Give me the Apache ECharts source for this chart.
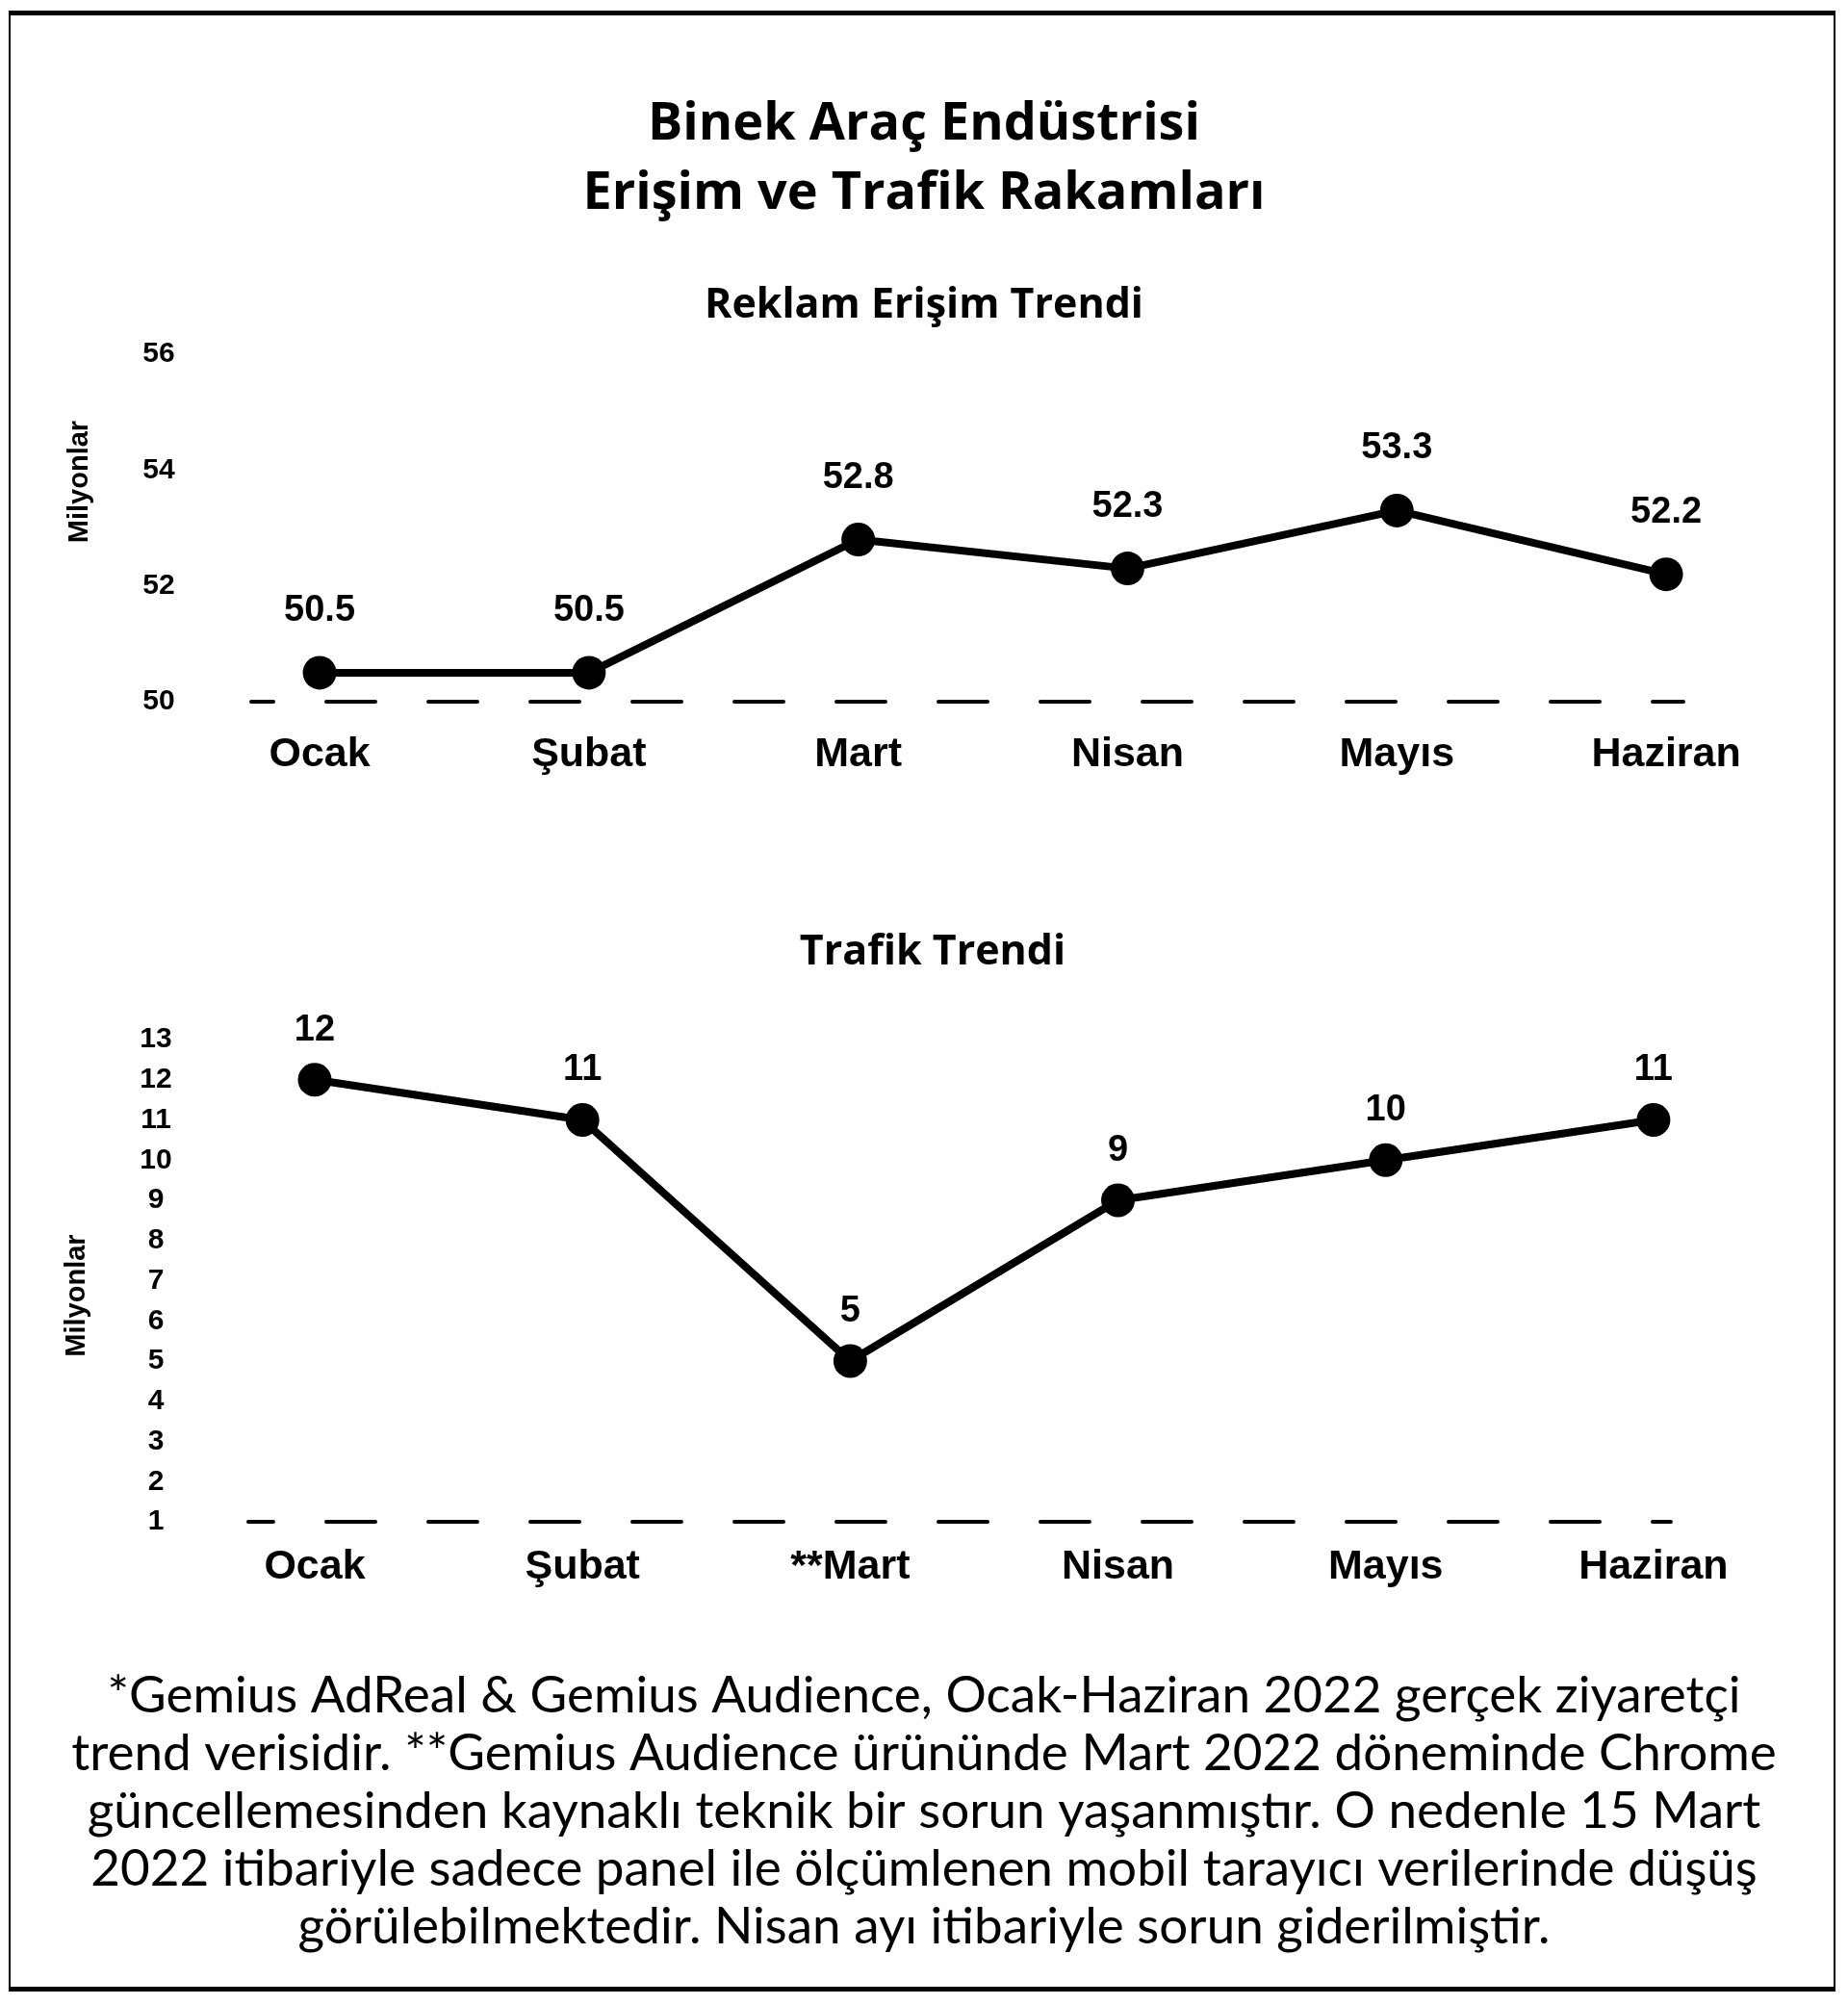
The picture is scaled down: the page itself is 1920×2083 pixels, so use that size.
<!DOCTYPE html>
<html>
<head>
<meta charset="utf-8">
<script src="https://cdn.jsdelivr.net/npm/echarts@6/dist/echarts.min.js"></script>
<style>
  html, body { margin: 0; padding: 0; background: #fff; }
  #chart { width: 1920px; height: 2083px; }
  #frame { position: absolute; left: 9px; top: 11px; width: 1898px; height: 2058px;
           border-top: 5px solid #000; border-bottom: 5px solid #000;
           border-left: 2px solid #000; border-right: 2px solid #000;
           box-sizing: border-box; pointer-events: none; }
</style>
</head>
<body>
<div id="chart"></div>
<div id="frame"></div>
<script>
// ---- data ----
const reachMonths = ['Ocak', 'Şubat', 'Mart', 'Nisan', 'Mayıs', 'Haziran'];
const trafficMonths = ['Ocak', 'Şubat', '**Mart', 'Nisan', 'Mayıs', 'Haziran'];
const reachValues = [50.5, 50.5, 52.8, 52.3, 53.3, 52.2];
const trafficValues = [12, 11, 5, 9, 10, 11];
const reachTicks = [50, 52, 54, 56];
const trafficTicks = [1, 2, 3, 4, 5, 6, 7, 8, 9, 10, 11, 12, 13];
const mainTitle = ['Binek Araç Endüstrisi', 'Erişim ve Trafik Rakamları'];
const reachTitle = 'Reklam Erişim Trendi';
const trafficTitle = 'Trafik Trendi';
const axisName = 'Milyonlar';
const footnoteLines = [
  '*Gemius AdReal & Gemius Audience, Ocak-Haziran 2022 gerçek ziyaretçi',
  'trend verisidir. **Gemius Audience ürününde Mart 2022 döneminde Chrome',
  'güncellemesinden kaynaklı teknik bir sorun yaşanmıştır. O nedenle 15 Mart',
  '2022 itibariyle sadece panel ile ölçümlenen mobil tarayıcı verilerinde düşüş',
  'görülebilmektedir. Nisan ayı itibariyle sorun giderilmiştir.'
];

const numFont = '"Liberation Sans", Arial, Helvetica, sans-serif';
const titleFont = '"Open Sans", Lato, "Noto Sans", sans-serif';
const noteFont = 'Lato, "Open Sans", sans-serif';

function xAxisFor(gridIndex, names, min, max, dashOffset) {
  return {
    type: 'value', gridIndex: gridIndex, min: min, max: max,
    axisLine: { show: true, onZero: false, lineStyle: { color: '#000', width: 4, type: [51, 55], dashOffset: dashOffset } },
    axisTick: { show: false },
    splitLine: { show: false },
    axisLabel: {
      customValues: names.map((n, i) => i),
      formatter: v => names[Math.round(v)] || '',
      color: '#000', fontFamily: numFont, fontWeight: 'bold', fontSize: 43,
      margin: gridIndex === 0 ? 34 : 26
    }
  };
}

function yAxisFor(gridIndex, ticks, padding) {
  return {
    type: 'value', gridIndex: gridIndex,
    min: ticks[0], max: ticks[ticks.length - 1], interval: ticks[1] - ticks[0],
    axisLine: { show: false }, axisTick: { show: false }, splitLine: { show: false },
    axisLabel: { color: '#000', fontFamily: numFont, fontWeight: 'bold', fontSize: 30, align: 'center', margin: 96 },
    name: axisName, nameLocation: 'middle', nameRotate: 90, nameGap: 164,
    nameTextStyle: { color: '#000', fontFamily: numFont, fontWeight: 'bold', fontSize: 29, padding: padding }
  };
}

function seriesFor(gridIndex, values, dist) {
  return {
    type: 'line', xAxisIndex: gridIndex, yAxisIndex: gridIndex,
    data: values.map((v, i) => [i, v]),
    symbol: 'circle', symbolSize: 35,
    itemStyle: { color: '#000' },
    lineStyle: { color: '#000', width: 8 },
    label: { show: true, position: 'top', distance: dist, color: '#000', fontFamily: numFont, fontWeight: 'bold', fontSize: 38,
             formatter: p => String(p.value[1]) },
    animation: false, z: 5
  };
}

const chart = echarts.init(document.getElementById('chart'), null, { renderer: 'canvas' });
chart.setOption({
  backgroundColor: '#fff',
  animation: false,
  title: [
    { text: mainTitle.join('\n'), left: 'center', top: 94, padding: 0,
      textStyle: { color: '#000', fontFamily: titleFont, fontWeight: 'bold', fontSize: 54, lineHeight: 72 } },
    { text: reachTitle, left: 'center', top: 294, padding: 0,
      textStyle: { color: '#000', fontFamily: titleFont, fontWeight: 'bold', fontSize: 43, lineHeight: 48 } },
    { text: trafficTitle, left: 969, textAlign: 'center', top: 966, padding: 0,
      textStyle: { color: '#000', fontFamily: titleFont, fontWeight: 'bold', fontSize: 43, lineHeight: 48 } },
    { text: footnoteLines.join('\n'), left: 'center', top: 1732, padding: 0,
      textStyle: { color: '#000', fontFamily: noteFont, fontWeight: 'normal', fontSize: 53, lineHeight: 60 } }
  ],
  grid: [
    { left: 261, right: 1920 - 1749, top: 368, height: 361 },
    { left: 258, right: 1920 - 1736, top: 1080, height: 501 }
  ],
  xAxis: [
    xAxisFor(0, reachMonths, -0.254, 5.064, 28),
    xAxisFor(1, trafficMonths, -0.248, 5.065, 25)
  ],
  yAxis: [
    yAxisFor(0, reachTicks, [0, 0, 0, 96]),
    yAxisFor(1, trafficTicks, [0, 31, 0, 0])
  ],
  series: [
    seriesFor(0, reachValues, 28),
    seriesFor(1, trafficValues, 15)
  ]
});
</script>
</body>
</html>
